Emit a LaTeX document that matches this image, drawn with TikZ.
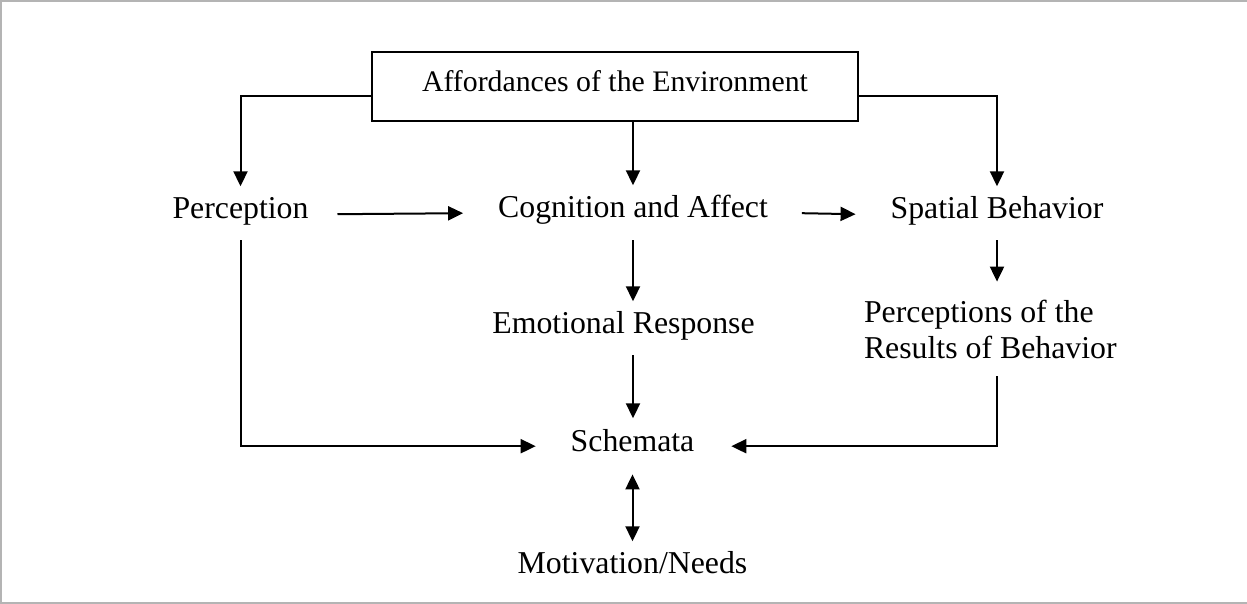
\documentclass[tikz,border=0pt]{standalone}
\usepackage{fontspec}
\setmainfont{Liberation Serif}
\usetikzlibrary{arrows.meta,calc}

\tikzset{
  lbl/.style={inner sep=0pt, outer sep=0pt, text height=0.7em, text depth=0.22em, anchor=base},
  topbox/.style={draw, line width=1pt, inner sep=0pt, minimum width=243pt, minimum height=34.5pt,
                 font=\fontsize{14.9}{18}\selectfont, text height=0.7em, text depth=0.22em},
  conn/.style={line width=1pt},
  arr/.style={conn, -{Triangle[length=7.5pt,width=7pt]}},
  darr/.style={conn, {Triangle[length=7.5pt,width=7pt]}-{Triangle[length=7.5pt,width=7pt]}},
  frame/.style={line width=1pt, draw={rgb,255:red,180;green,180;blue,180}}
}

\begin{document}
\begin{tikzpicture}[x=0.5pt, y=-0.5pt, font=\fontsize{15.9}{18}\selectfont]
  \useasboundingbox (0,0) rectangle (1247,604);
  \fill[white] (0,0) rectangle (1247,604);
  % frame on the top, left and bottom edges
  \draw[frame] (1247,1) -- (1,1) -- (1,603) -- (1247,603);

  % boxes and labels
  \node[topbox] (aff) at (615,86.5) {Affordances of the Environment};
  \node[lbl] (perc) at (240.5,219) {Perception};
  \node[lbl] (cog)  at (633,218)   {Cognition and Affect};
  \node[lbl] (spat) at (997,219)   {Spatial Behavior};
  \node[lbl] (emo)  at (623.5,333) {Emotional Response};
  \node[inner sep=0pt, outer sep=0pt, align=left, anchor=base west] (res) at (864,358)
       {Perceptions of the\\Results of Behavior};
  \node[lbl] (sch)  at (632.5,451) {Schemata};
  \node[lbl] (mot)  at (632.5,573) {Motivation/Needs};

  % connectors from the top box
  \draw[arr] ([yshift=-4.75pt]aff.west) -| ([yshift=9.35pt]perc.north);
  \draw[arr] ([yshift=-4.75pt]aff.east) -| ([yshift=9.35pt]spat.north);
  \draw[arr] (cog.north |- aff.south) -- ([yshift=9.35pt]cog.north);

  % middle row
  \draw[arr] ([xshift=14.5pt]perc.east) -- ([xshift=-17.5pt]cog.west);
  \draw[arr] ([xshift=17pt]cog.east) -- ([xshift=-17.5pt]spat.west);

  % downward chains
  \draw[arr] ([yshift=-9pt]cog.south) -- ($(cog.south |- emo.north)+(0,8.85pt)$);
  \draw[arr] ($(cog.south |- emo.south)+(0,-9pt)$) -- ($(cog.south |- sch.north)+(0,9.35pt)$);
  \draw[arr] ([yshift=-8.5pt]spat.south) -- ($(spat.south |- res.north)+(0,9pt)$);
  \draw[darr] ([yshift=-9.5pt]sch.south) -- ([yshift=8.85pt]mot.north);

  % paths into the schemata
  \draw[arr] ([yshift=-8.5pt]perc.south) |- ([xshift=-17.5pt]sch.west);
  \draw[arr] ($(spat.south |- res.south)+(0,-9pt)$) |- ([xshift=18.5pt]sch.east);
\end{tikzpicture}
\end{document}
